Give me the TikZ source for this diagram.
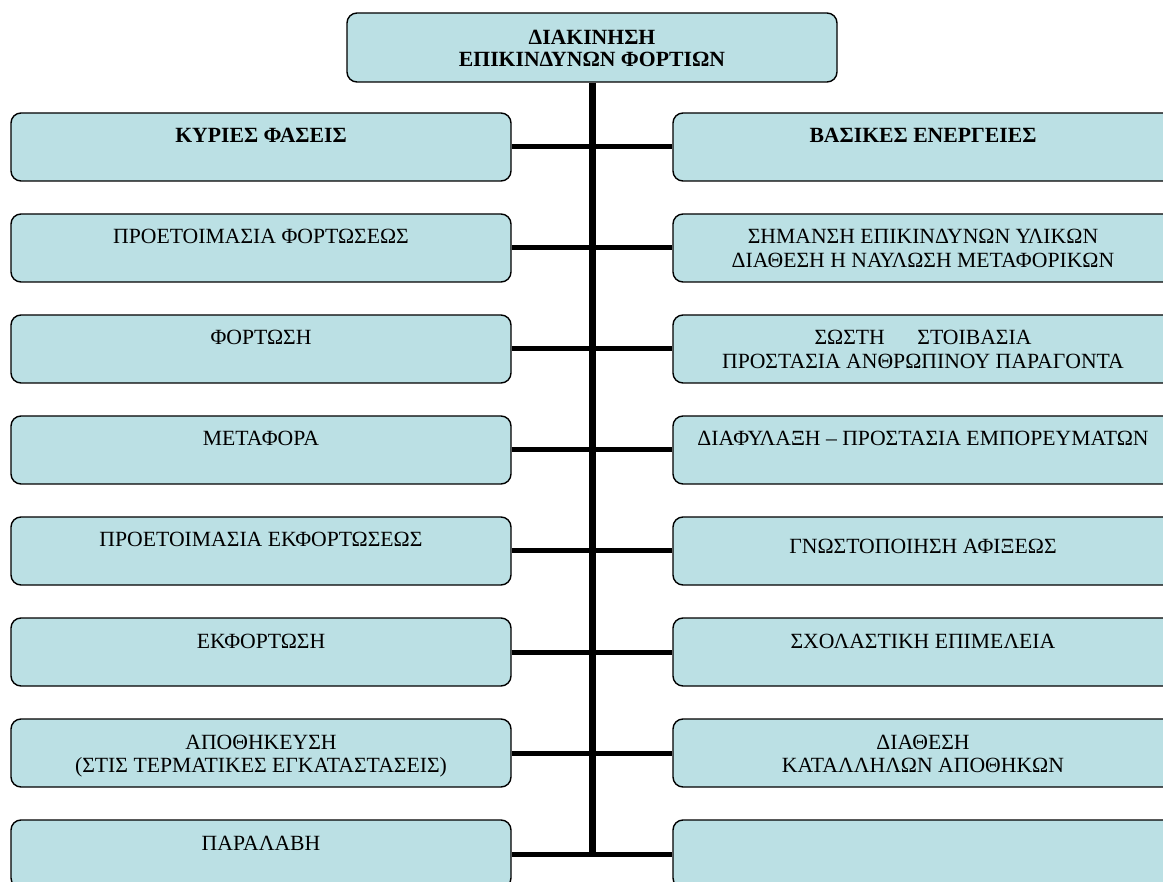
\documentclass[tikz,border=0pt]{standalone}
\usepackage{fontspec}
\setmainfont{Liberation Serif}
\definecolor{boxcyan}{RGB}{187,224,228}

\begin{document}
\begin{tikzpicture}[x=1pt,y=1pt,
  box/.style={draw,line width=1.4pt,fill=boxcyan,rounded corners=10,
    minimum width=500,minimum height=68,inner xsep=2,inner ysep=0,
    text height=30,text depth=38,align=center,
    font=\fontsize{21.7}{23.5}\selectfont},
  twoline/.style={text height=53.5,text depth=14.5},
  headbox/.style={box,font=\fontsize{21.7}{23.5}\selectfont\bfseries},
  titlebox/.style={box,minimum width=490,minimum height=69,
    text height=54,text depth=15,
    font=\fontsize{21.7}{22}\selectfont\bfseries},
  lowtext/.style={text height=37,text depth=31},
  trunk/.style={line width=7pt},
  branch/.style={line width=5pt}]
\clip (0,0) rectangle (1163,-882);

\node [titlebox] (title) at (592,-47.5) {ΔΙΑΚΙΝΗΣΗ\\ΕΠΙΚΙΝΔΥΝΩΝ ΦΟΡΤΙΩΝ};

% left column
\node [headbox] (phase1) at (261,-147) {ΚΥΡΙΕΣ ΦΑΣΕΙΣ};
\node [box] (phase2) at (261,-248) {ΠΡΟΕΤΟΙΜΑΣΙΑ ΦΟΡΤΩΣΕΩΣ};
\node [box] (phase3) at (261,-349) {ΦΟΡΤΩΣΗ};
\node [box] (phase4) at (261,-450) {ΜΕΤΑΦΟΡΑ};
\node [box] (phase5) at (261,-551) {ΠΡΟΕΤΟΙΜΑΣΙΑ ΕΚΦΟΡΤΩΣΕΩΣ};
\node [box] (phase6) at (261,-652) {ΕΚΦΟΡΤΩΣΗ};
\node [box,twoline] (phase7) at (261,-753) {ΑΠΟΘΗΚΕΥΣΗ\\(ΣΤΙΣ ΤΕΡΜΑΤΙΚΕΣ ΕΓΚΑΤΑΣΤΑΣΕΙΣ)};
\node [box] (phase8) at (261,-854) {ΠΑΡΑΛΑΒΗ};

% right column
\node [headbox] (action1) at (923,-147) {ΒΑΣΙΚΕΣ ΕΝΕΡΓΕΙΕΣ};
\node [box,twoline] (action2) at (923,-248) {ΣΗΜΑΝΣΗ ΕΠΙΚΙΝΔΥΝΩΝ ΥΛΙΚΩΝ\\ΔΙΑΘΕΣΗ Η ΝΑΥΛΩΣΗ ΜΕΤΑΦΟΡΙΚΩΝ};
\node [box,twoline] (action3) at (923,-349) {ΣΩΣΤΗ\hspace{1.5em}ΣΤΟΙΒΑΣΙΑ\\ΠΡΟΣΤΑΣΙΑ ΑΝΘΡΩΠΙΝΟΥ ΠΑΡΑΓΟΝΤΑ};
\node [box] (action4) at (923,-450) {ΔΙΑΦΥΛΑΞΗ – ΠΡΟΣΤΑΣΙΑ ΕΜΠΟΡΕΥΜΑΤΩΝ};
\node [box,lowtext] (action5) at (923,-551) {ΓΝΩΣΤΟΠΟΙΗΣΗ ΑΦΙΞΕΩΣ};
\node [box] (action6) at (923,-652) {ΣΧΟΛΑΣΤΙΚΗ ΕΠΙΜΕΛΕΙΑ};
\node [box,twoline] (action7) at (923,-753) {ΔΙΑΘΕΣΗ\\ΚΑΤΑΛΛΗΛΩΝ ΑΠΟΘΗΚΩΝ};
\node [box] (action8) at (923,-854) {};

% connectors
\draw [trunk] (title.south) -- (title.south |- phase8.east);
\draw [branch] (phase1.east) -- (action1.west);
\draw [branch] (phase2.east) -- (action2.west);
\draw [branch] (phase3.east) -- (action3.west);
\draw [branch] (phase4.east) -- (action4.west);
\draw [branch] (phase5.east) -- (action5.west);
\draw [branch] (phase6.east) -- (action6.west);
\draw [branch] (phase7.east) -- (action7.west);
\draw [branch] (phase8.east) -- (action8.west);
\end{tikzpicture}
\end{document}
